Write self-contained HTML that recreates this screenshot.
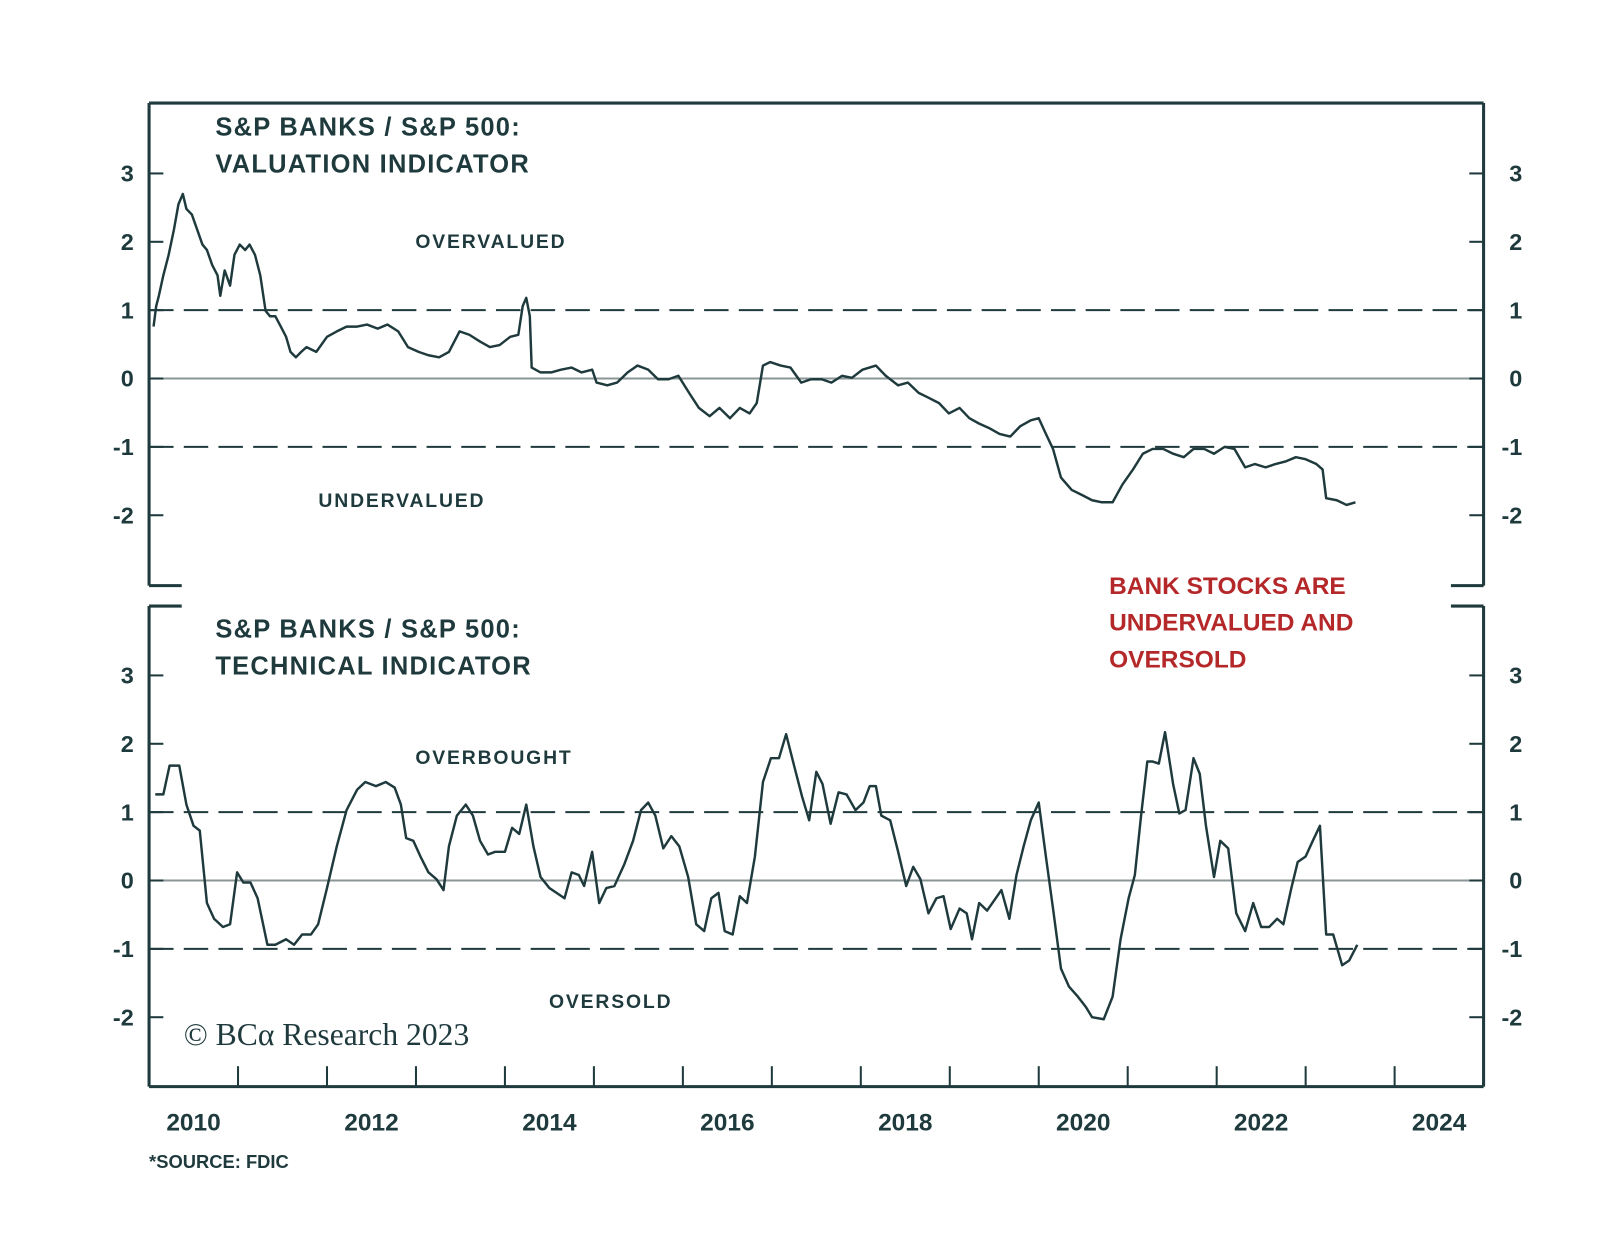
<!DOCTYPE html>
<html><head><meta charset="utf-8"><style>
html,body{margin:0;padding:0;background:#fff;}
svg{display:block;font-family:"Liberation Sans",sans-serif;}
</style></head><body>
<svg id="chart" width="1600" height="1258" viewBox="0 0 1568 1233" xmlns="http://www.w3.org/2000/svg">
<g id="frame"></g>
<g id="series"></g>
<g id="labels" fill="#1f3a3d" font-weight="bold">
<text x="211" y="133" font-size="25" letter-spacing="1.2">S&amp;P BANKS / S&amp;P 500:</text>
<text x="211" y="169" font-size="25" letter-spacing="1.2">VALUATION INDICATOR</text>
<text x="407" y="243" font-size="19" letter-spacing="1.8">OVERVALUED</text>
<text x="312" y="497" font-size="19" letter-spacing="1.8">UNDERVALUED</text>
<text x="211" y="625" font-size="25" letter-spacing="1.2">S&amp;P BANKS / S&amp;P 500:</text>
<text x="211" y="661" font-size="25" letter-spacing="1.2">TECHNICAL INDICATOR</text>
<text x="407" y="749" font-size="19" letter-spacing="1.8">OVERBOUGHT</text>
<text x="538" y="988" font-size="19" letter-spacing="1.8">OVERSOLD</text>
<g fill="#b5282a" font-size="24">
<text x="1087" y="582">BANK STOCKS ARE</text>
<text x="1087" y="618">UNDERVALUED AND</text>
<text x="1087" y="654">OVERSOLD</text>
</g>
<text x="180" y="1024" font-size="31" font-weight="normal" font-family="Liberation Serif, serif">© BCα Research 2023</text>
<text x="146" y="1145" font-size="18">*SOURCE: FDIC</text>
</g>
</svg>
<script>
const xYears=[2010,2012,2014,2016,2018,2020,2022,2024];
const yTicks=[3,2,1,0,-1,-2];
const valYears=[2010.05,2010.08,2010.11,2010.16,2010.22,2010.28,2010.33,2010.38,2010.42,2010.48,2010.54,2010.60,2010.65,2010.71,2010.77,2010.80,2010.85,2010.91,2010.96,2011.02,2011.08,2011.13,2011.19,2011.25,2011.31,2011.36,2011.42,2011.48,2011.54,2011.59,2011.65,2011.71,2011.77,2011.88,2012.00,2012.11,2012.22,2012.34,2012.45,2012.57,2012.68,2012.80,2012.91,2013.03,2013.14,2013.26,2013.37,2013.49,2013.60,2013.72,2013.83,2013.94,2014.06,2014.15,2014.20,2014.24,2014.28,2014.30,2014.40,2014.52,2014.63,2014.75,2014.86,2014.98,2015.03,2015.15,2015.26,2015.38,2015.49,2015.61,2015.72,2015.84,2015.95,2016.07,2016.18,2016.30,2016.41,2016.53,2016.64,2016.75,2016.83,2016.90,2016.98,2017.10,2017.21,2017.33,2017.44,2017.56,2017.67,2017.79,2017.90,2018.02,2018.17,2018.28,2018.42,2018.53,2018.65,2018.76,2018.88,2018.99,2019.11,2019.22,2019.33,2019.45,2019.56,2019.68,2019.79,2019.91,2020.00,2020.08,2020.16,2020.25,2020.37,2020.48,2020.60,2020.71,2020.83,2020.94,2021.06,2021.17,2021.28,2021.40,2021.51,2021.63,2021.74,2021.86,2021.97,2022.09,2022.20,2022.32,2022.43,2022.55,2022.66,2022.78,2022.89,2023.00,2023.12,2023.19,2023.23,2023.35,2023.46,2023.56];
const valValues=[0.76,1.06,1.21,1.51,1.81,2.18,2.55,2.70,2.48,2.40,2.18,1.96,1.88,1.66,1.51,1.21,1.58,1.36,1.81,1.96,1.88,1.96,1.81,1.51,0.99,0.91,0.91,0.76,0.61,0.39,0.31,0.39,0.46,0.39,0.61,0.69,0.76,0.76,0.79,0.73,0.79,0.69,0.46,0.39,0.34,0.31,0.39,0.69,0.64,0.54,0.46,0.49,0.61,0.64,1.06,1.18,0.91,0.16,0.09,0.09,0.13,0.16,0.09,0.13,-0.06,-0.10,-0.06,0.09,0.19,0.13,-0.01,-0.01,0.04,-0.21,-0.43,-0.55,-0.43,-0.58,-0.43,-0.51,-0.36,0.19,0.24,0.19,0.16,-0.06,-0.01,-0.01,-0.06,0.04,0.01,0.13,0.19,0.04,-0.10,-0.06,-0.21,-0.28,-0.36,-0.51,-0.43,-0.58,-0.66,-0.73,-0.81,-0.85,-0.70,-0.61,-0.58,-0.81,-1.03,-1.45,-1.63,-1.70,-1.78,-1.81,-1.81,-1.55,-1.33,-1.10,-1.03,-1.03,-1.10,-1.15,-1.03,-1.03,-1.10,-1.00,-1.03,-1.30,-1.25,-1.30,-1.25,-1.21,-1.15,-1.18,-1.25,-1.33,-1.75,-1.78,-1.85,-1.81];
const techYears=[2010.07,2010.16,2010.23,2010.34,2010.42,2010.50,2010.57,2010.65,2010.73,2010.83,2010.91,2010.99,2011.06,2011.14,2011.22,2011.33,2011.42,2011.54,2011.63,2011.72,2011.82,2011.90,2012.00,2012.11,2012.22,2012.34,2012.43,2012.55,2012.66,2012.76,2012.83,2012.89,2012.97,2013.05,2013.14,2013.23,2013.31,2013.37,2013.46,2013.56,2013.64,2013.72,2013.81,2013.89,2014.00,2014.08,2014.16,2014.24,2014.32,2014.40,2014.50,2014.58,2014.67,2014.75,2014.83,2014.89,2014.98,2015.06,2015.14,2015.23,2015.34,2015.44,2015.53,2015.61,2015.69,2015.78,2015.87,2015.96,2016.06,2016.15,2016.24,2016.32,2016.40,2016.47,2016.56,2016.64,2016.72,2016.81,2016.90,2016.99,2017.08,2017.16,2017.25,2017.34,2017.42,2017.50,2017.57,2017.66,2017.75,2017.84,2017.94,2018.03,2018.10,2018.17,2018.23,2018.33,2018.42,2018.51,2018.59,2018.67,2018.76,2018.85,2018.93,2019.01,2019.11,2019.19,2019.25,2019.33,2019.42,2019.50,2019.58,2019.67,2019.75,2019.83,2019.91,2020.00,2020.08,2020.16,2020.25,2020.34,2020.44,2020.53,2020.60,2020.73,2020.83,2020.92,2021.01,2021.08,2021.15,2021.22,2021.28,2021.35,2021.42,2021.51,2021.58,2021.65,2021.74,2021.81,2021.88,2021.97,2022.04,2022.13,2022.22,2022.32,2022.41,2022.50,2022.59,2022.68,2022.75,2022.84,2022.91,2023.00,2023.08,2023.16,2023.23,2023.31,2023.41,2023.49,2023.58];
const techValues=[1.26,1.26,1.68,1.68,1.11,0.80,0.73,-0.33,-0.56,-0.68,-0.64,0.12,-0.03,-0.03,-0.26,-0.94,-0.94,-0.86,-0.94,-0.79,-0.79,-0.64,-0.11,0.50,1.03,1.33,1.44,1.38,1.44,1.36,1.11,0.62,0.58,0.35,0.12,0.02,-0.14,0.50,0.95,1.11,0.95,0.58,0.38,0.42,0.42,0.77,0.68,1.11,0.50,0.05,-0.11,-0.18,-0.26,0.12,0.08,-0.08,0.42,-0.33,-0.11,-0.08,0.23,0.58,1.03,1.14,0.95,0.47,0.65,0.50,0.05,-0.64,-0.74,-0.26,-0.18,-0.74,-0.79,-0.23,-0.33,0.35,1.44,1.79,1.79,2.14,1.68,1.23,0.88,1.59,1.41,0.83,1.29,1.26,1.03,1.14,1.38,1.38,0.95,0.88,0.42,-0.08,0.20,0.02,-0.48,-0.26,-0.23,-0.71,-0.41,-0.48,-0.86,-0.33,-0.44,-0.29,-0.14,-0.56,0.08,0.50,0.88,1.14,0.35,-0.41,-1.29,-1.55,-1.70,-1.85,-2.00,-2.03,-1.70,-0.86,-0.26,0.08,0.95,1.74,1.74,1.71,2.17,1.41,0.98,1.03,1.79,1.56,0.80,0.05,0.58,0.47,-0.48,-0.74,-0.33,-0.68,-0.68,-0.56,-0.64,-0.11,0.27,0.35,0.58,0.80,-0.79,-0.79,-1.24,-1.17,-0.94];

const NS="http://www.w3.org/2000/svg";
const C="#1f3a3d";
const L=146,R=1454;
const xs=y=>L+(y-2010)*87.2;
const yTop=v=>371-v*67;
const yBot=v=>863-v*67;
function mk(tag,attrs,parent){const e=document.createElementNS(NS,tag);for(const k in attrs)e.setAttribute(k,attrs[k]);parent.appendChild(e);return e;}
const frame=document.getElementById('frame');
const series=document.getElementById('series');
[[yTop,101,574,true],[yBot,594,1065,false]].forEach(([yf,t,b,isTop])=>{
  [1,-1].forEach(v=>{const ln=mk('line',{x1:L,x2:R,y1:yf(v),y2:yf(v),stroke:C,'stroke-width':2,'stroke-dasharray':'24,10'},frame);
  
  });
  const z=mk('line',{x1:L,x2:R,y1:yf(0),y2:yf(0),stroke:'#8a9596','stroke-width':2},frame);
  
  
  mk('line',{x1:L,x2:L,y1:t,y2:b,stroke:C,'stroke-width':3},frame);
  mk('line',{x1:R,x2:R,y1:t,y2:b,stroke:C,'stroke-width':3},frame);
  if(isTop){
    mk('line',{x1:L,x2:R,y1:t,y2:t,stroke:C,'stroke-width':3},frame);
    mk('line',{x1:L,x2:L+32,y1:b,y2:b,stroke:C,'stroke-width':3},frame);
    mk('line',{x1:R-32,x2:R,y1:b,y2:b,stroke:C,'stroke-width':3},frame);
  } else {
    mk('line',{x1:L,x2:L+32,y1:t,y2:t,stroke:C,'stroke-width':3},frame);
    mk('line',{x1:R-32,x2:R,y1:t,y2:t,stroke:C,'stroke-width':3},frame);
    mk('line',{x1:L,x2:R,y1:b,y2:b,stroke:C,'stroke-width':3},frame);
  }
  yTicks.forEach(v=>{
    mk('line',{x1:L,x2:L+14,y1:yf(v),y2:yf(v),stroke:C,'stroke-width':2},frame);
    mk('line',{x1:R-14,x2:R,y1:yf(v),y2:yf(v),stroke:C,'stroke-width':2},frame);
    const a=mk('text',{x:131,y:yf(v)+8,'text-anchor':'end','font-size':23,'font-weight':'bold',fill:C},frame);a.textContent=v;
    
    
    const b2=mk('text',{x:1492,y:yf(v)+8,'text-anchor':'end','font-size':23,'font-weight':'bold',fill:C},frame);b2.textContent=v;
    
    
  });
});
for(let yr=2011;yr<=2024;yr++){mk('line',{x1:xs(yr),x2:xs(yr),y1:1045,y2:1065,stroke:C,'stroke-width':2},frame);}
xYears.forEach(yr=>{const t=mk('text',{x:xs(yr+0.5),y:1108,'text-anchor':'middle','font-size':24,'font-weight':'bold',fill:C},frame);t.textContent=yr;
  
  });
function line(xsArr,vals,yf,name){
  const d=xsArr.map((y,i)=>(i?'L':'M')+xs(y).toFixed(1)+','+yf(vals[i]).toFixed(1)).join('');
  const p=mk('path',{d:d,fill:'none',stroke:C,'stroke-width':2.4,'stroke-linejoin':'round'},series);
  
  
}
line(valYears,valValues,yTop,'valuation-indicator-line');
line(techYears,techValues,yBot,'technical-indicator-line');
</script>
</body></html>
